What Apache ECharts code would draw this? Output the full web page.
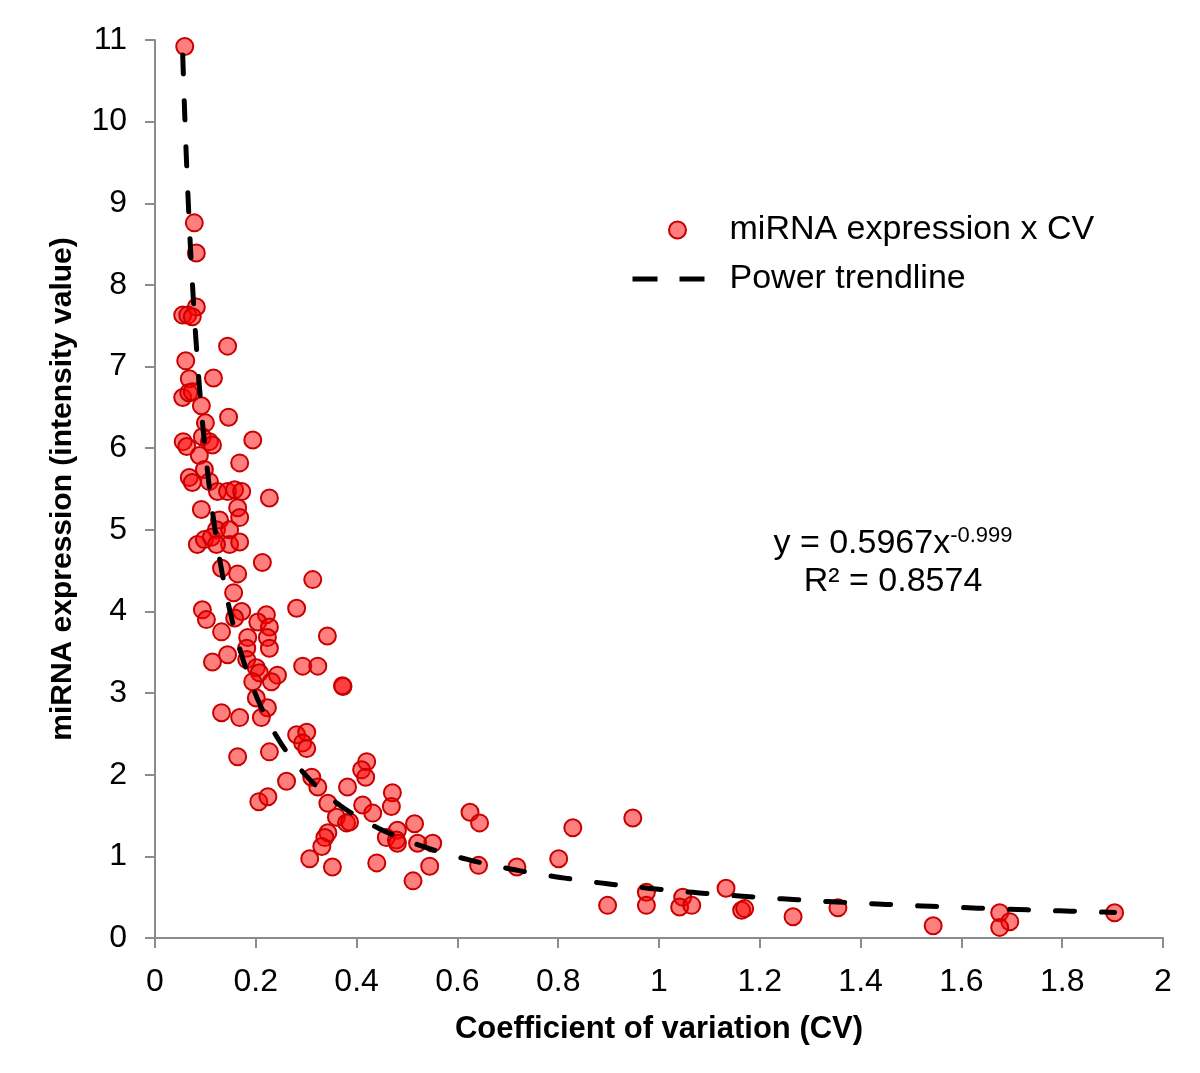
<!DOCTYPE html>
<html>
<head>
<meta charset="utf-8">
<script src="https://cdn.jsdelivr.net/npm/echarts@6/dist/echarts.min.js"></script>
<style>
html,body{margin:0;padding:0;background:#fff;}
#chart{width:1200px;height:1073px;}
</style>
</head>
<body>
<div id="chart"></div>
<script>
// Coefficient of variation (x) for each miRNA
const cvValues = [
  0.059,0.078,0.082,0.082,0.055,0.065,0.074,0.144,0.061,0.116,
  0.068,0.055,0.067,0.074,0.092,0.146,0.100,0.194,0.056,0.063,
  0.094,0.108,0.114,0.088,0.168,0.098,0.068,0.074,0.108,0.124,
  0.144,0.158,0.172,0.227,0.092,0.164,0.168,0.128,0.122,0.148,
  0.084,0.098,0.112,0.148,0.168,0.122,0.213,0.132,0.164,0.313,
  0.156,0.094,0.102,0.281,0.172,0.221,0.158,0.204,0.227,0.132,
  0.342,0.184,0.223,0.227,0.182,0.144,0.114,0.182,0.293,0.323,
  0.201,0.207,0.243,0.194,0.231,0.373,0.372,0.201,0.223,0.132,
  0.168,0.211,0.281,0.301,0.293,0.301,0.227,0.164,0.311,0.261,
  0.323,0.420,0.410,0.418,0.382,0.206,0.224,0.343,0.471,0.469,
  0.412,0.432,0.360,0.380,0.386,0.481,0.515,0.459,0.479,0.481,
  0.551,0.521,0.343,0.337,0.331,0.307,0.352,0.440,0.545,0.512,
  0.625,0.644,0.642,0.718,0.829,0.801,0.948,0.898,0.975,0.975,
  1.047,1.041,1.065,1.133,1.164,1.170,1.266,1.355,1.544,1.676,
  1.696,1.676,1.904
];
// miRNA expression (intensity value) for each miRNA
const expressionValues = [
  10.92,8.76,8.39,7.73,7.63,7.63,7.61,7.25,7.07,6.86,
  6.85,6.62,6.68,6.69,6.52,6.38,6.31,6.10,6.08,6.02,
  6.14,6.08,6.04,5.91,5.82,5.74,5.64,5.58,5.59,5.47,
  5.47,5.49,5.47,5.39,5.25,5.27,5.15,5.12,5.00,5.00,
  4.82,4.88,4.91,4.82,4.85,4.82,4.60,4.53,4.46,4.39,
  4.23,4.02,3.90,4.04,4.00,3.96,3.92,3.87,3.81,3.75,
  3.70,3.68,3.68,3.55,3.55,3.47,3.38,3.41,3.33,3.33,
  3.31,3.25,3.22,3.14,3.14,3.08,3.09,2.94,2.82,2.76,
  2.70,2.70,2.49,2.52,2.39,2.32,2.28,2.22,1.97,1.92,
  1.85,2.16,2.06,1.97,1.85,1.67,1.73,1.65,1.78,1.61,
  1.63,1.53,1.48,1.41,1.42,1.32,1.40,1.23,1.20,1.16,
  1.16,1.16,1.29,1.23,1.12,0.97,0.87,0.92,0.88,0.70,
  1.54,1.41,0.89,0.87,1.35,0.97,1.47,0.40,0.56,0.40,
  0.50,0.38,0.40,0.61,0.34,0.36,0.26,0.37,0.15,0.31,
  0.20,0.13,0.31
];
// Power trendline as reported on the chart: y = a * x^b
const trendCoefA = 0.5967;
const trendExpB = -0.999;
const trendR2 = 0.8574;
const xTickLabels = ['0','0.2','0.4','0.6','0.8','1','1.2','1.4','1.6','1.8','2'];
const yTickLabels = ['0','1','2','3','4','5','6','7','8','9','10','11'];

const scatterData = cvValues.map((x, i) => [x, expressionValues[i]]);
const xMin = Math.min(...cvValues), xMax = Math.max(...cvValues);
const trendData = [];
const nT = 300;
for (let i = 0; i <= nT; i++) {
  const x = xMin * Math.pow(xMax / xMin, i / nT);
  trendData.push([x, trendCoefA * Math.pow(x, trendExpB)]);
}

const FONT = 'Liberation Sans, Arial, sans-serif';
const chart = echarts.init(document.getElementById('chart'), null, {renderer: 'canvas'});
chart.setOption({
  backgroundColor: '#ffffff',
  animation: false,
  grid: {left: 155, right: 37, top: 40, bottom: 135, containLabel: false},
  xAxis: {
    type: 'value', min: 0, max: 2, interval: 0.2,
    name: 'Coefficient of variation (CV)', nameLocation: 'middle', nameGap: 76,
    nameTextStyle: {fontFamily: FONT, fontSize: 31, fontWeight: 'bold', color: '#000'},
    axisLine: {show: true, onZero: false, lineStyle: {color: '#8c8c8c', width: 2}},
    axisTick: {show: true, inside: false, length: 10, lineStyle: {color: '#8c8c8c', width: 2}},
    axisLabel: {fontFamily: FONT, fontSize: 32, color: '#000', margin: 28,
      formatter: (v) => xTickLabels[Math.round(v / 0.2)] ?? ''},
    splitLine: {show: false}
  },
  yAxis: {
    type: 'value', min: 0, max: 11, interval: 1,
    name: 'miRNA expression (intensity value)', nameLocation: 'middle', nameGap: 77, nameRotate: 90,
    nameTextStyle: {fontFamily: FONT, fontSize: 30, fontWeight: 'bold', color: '#000'},
    axisLine: {show: true, onZero: false, lineStyle: {color: '#8c8c8c', width: 2}},
    axisTick: {show: true, inside: false, length: 10, lineStyle: {color: '#8c8c8c', width: 2}},
    axisLabel: {fontFamily: FONT, fontSize: 32, color: '#000', margin: 28,
      formatter: (v) => yTickLabels[Math.round(v)] ?? ''},
    splitLine: {show: false}
  },
  legend: [
    {
      orient: 'vertical', left: 663, top: 208,
      itemWidth: 18, itemHeight: 17,
      textStyle: {fontFamily: FONT, fontSize: 34, color: '#000', padding: [0, 0, 0, 38]},
      data: [{name: 'miRNA expression x CV', icon: 'circle'}]
    },
    {
      orient: 'vertical', left: 625, top: 257,
      itemWidth: 72, itemHeight: 17,
      textStyle: {fontFamily: FONT, fontSize: 34, color: '#000', padding: [0, 0, 0, 20]},
      data: [{name: 'Power trendline',
        itemStyle: {color: 'rgba(0,0,0,0)', borderWidth: 0, opacity: 0},
        lineStyle: {color: '#000', width: 5, type: [25, 22], cap: 'butt'}}]
    }
  ],
  series: [
    {
      name: 'miRNA expression x CV', type: 'scatter', data: scatterData,
      symbol: 'circle', symbolSize: 17, z: 2,
      itemStyle: {color: 'rgba(255,0,0,0.5)', borderColor: '#c80000', borderWidth: 2, opacity: 1}
    },
    {
      name: 'Power trendline', type: 'line', data: trendData, showSymbol: false, symbol: 'none',
      smooth: false, z: 3,
      lineStyle: {color: '#000', width: 5, type: [19, 27], cap: 'round', join: 'round'},
      itemStyle: {color: '#000'}
    }
  ],
  graphic: [{
    type: 'text', x: 893, y: 525, z: 10,
    style: {
      text: '{a|y = ' + trendCoefA + 'x}{s|' + trendExpB + '}\n{a|R² = ' + trendR2 + '}',
      align: 'center', verticalAlign: 'top',
      rich: {
        a: {fontFamily: FONT, fontSize: 34, fill: '#000', lineHeight: 38},
        s: {fontFamily: FONT, fontSize: 22, fill: '#000', lineHeight: 38, verticalAlign: 'top', padding: [0,0,10,0]}
      }
    }
  }]
});
</script>
</body>
</html>
